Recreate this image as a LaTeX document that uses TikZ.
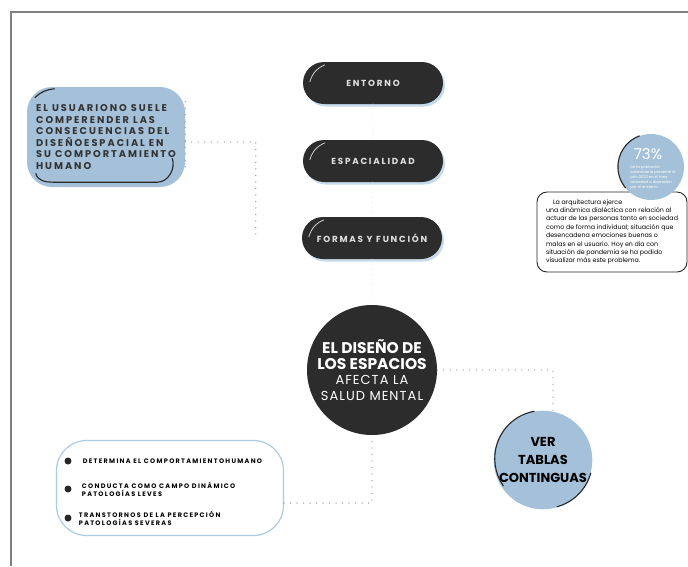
\documentclass[tikz,border=0pt]{standalone}
\usepackage{fontspec}
\setmainfont{Poppins}
\newfontfamily\widefont[LetterSpace=20]{Poppins}
\newfontfamily\softfont[LetterSpace=8]{Poppins}
\usepackage{tikz}
\usetikzlibrary{positioning, shadows}
\definecolor{pilldark}{RGB}{44,44,44}
\definecolor{mistblue}{RGB}{164,193,217}
\definecolor{shadeblue}{RGB}{198,218,236}
\definecolor{rimblue}{RGB}{170,203,227}
\definecolor{framegray}{RGB}{128,128,128}
\definecolor{dotgray}{RGB}{140,140,140}
\tikzset{
node distance=78pt, % distance between the pills
pill/.style={fill=pilldark, rounded corners=21pt, minimum width=140pt, minimum height=42pt, text=black!12, font=\widefont\bfseries\fontsize{8.8}{9}\selectfont, drop shadow={fill=shadeblue, opacity=1, shadow xshift=2pt, shadow yshift=-2.5pt}}, % dark buttons
hilite/.style={draw=white!80!black, line width=0.8pt}, % light stroke on the buttons
inkarc/.style={draw=black!85, line width=1.1pt}, % black strokes round the blue shapes
dotline/.style={draw=dotgray, line width=1.3pt, line cap=round, dash pattern=on 0pt off 6.5pt}, % dotted connectors
faint/.style={draw=black!12, line width=1pt, line cap=round, dash pattern=on 0pt off 5pt}, % the pale spine
}
\tikzset{
  centro/.style={circle, fill=pilldark, minimum size=130pt, text=white, align=center, inner sep=0pt},
  bluebox/.style={fill=mistblue, rounded corners=25pt, minimum width=158pt, minimum height=100pt, align=left, text=black!80, font=\widefont\bfseries\fontsize{9.8}{11.6}\selectfont},
  notebox/.style={draw=black!85, line width=0.9pt, fill=white, rounded corners=10pt, minimum width=150pt, minimum height=80pt, align=left, text=black, font=\fontsize{6.3}{8.4}\selectfont},
  disc/.style={circle, fill=mistblue, inner sep=0pt},
  listbox/.style={draw=rimblue, line width=1.2pt, rounded corners=30pt, minimum width=227pt, minimum height=95pt},
  dotitem/.style={circle, fill=black!85, minimum size=7pt, inner sep=0pt},
  itemtext/.style={align=left, inner sep=0pt, font=\widefont\bfseries\fontsize{6.5}{8}\selectfont}
}

\begin{document}
\begin{tikzpicture}[x=1pt, y=-1pt]
      \useasboundingbox (0,0) rectangle (688,566);
      \draw[framegray, line width=2pt] (688,12) -- (11,12) -- (11,566);

      \node[pill] (entorno) at (373,83) {ENTORNO};
      \node[pill, below of=entorno] (espacialidad) {ESPACIALIDAD};
      \node[pill, below of=espacialidad, xshift=-1pt, node distance=77pt] (formas) {FORMAS Y FUNCIÓN};
      \node[centro, below of=formas, node distance=132pt, font=\bfseries\fontsize{15.5}{15.5}\selectfont] (centro)
        {EL DISEÑO DE\\LOS ESPACIOS\\{\mdseries\softfont\fontsize{13}{15}\selectfont AFECTA LA}\\{\mdseries\softfont\fontsize{13}{15}\selectfont SALUD MENTAL}};
      \foreach \p in {entorno, espacialidad, formas}
        \draw[hilite] ([xshift=7pt,yshift=1pt]\p.west) to[bend left=25] ([xshift=22pt,yshift=-3pt]\p.north west);

      \node[bluebox] (usuario) at (106,137) {EL USUARIONO SUELE\\COMPERENDER LAS\\CONSECUENCIAS DEL\\DISEÑOESPACIAL EN\\SU COMPORTAMIENTO\\HUMANO};
      \draw[inkarc] ([xshift=8pt,yshift=-11pt]usuario.north west) to[bend left=20] ([xshift=28pt,yshift=-2pt]usuario.north west);
      \draw[inkarc] ([xshift=-13pt,yshift=29pt]usuario.south east) to[out=-70,in=0] ([xshift=-28pt,yshift=5pt]usuario.south east)
        -- ([xshift=26pt,yshift=5pt]usuario.south west) to[out=180,in=-80] ([xshift=9pt,yshift=14pt]usuario.south west);

      \node[notebox] (nota) at (612,232) {\hspace*{7pt}La arquitectura ejerce\\una dinámica dialéctica con relación al\\actuar de las personas tanto en sociedad\\como de forma individual; situación que\\desencadena emociones buenas o\\malas en el usuario. Hoy en día con\\situación de pandemia se ha podido\\visualizar más este problema.};
      \node[disc, minimum size=66pt] (pct) at (651,167) {};
      \draw[inkarc] (pct.110) arc[start angle=110, end angle=220, radius=33pt];
      \node[text=white, font=\fontsize{15}{15}\selectfont] (pctnum) at (648,154) {73\%};
      \node[text=white, align=left, inner sep=0pt, font=\fontsize{3.8}{5}\selectfont] (pctnote) at (653,177) {De la población\\colombiana presentó el\\año 2020 en el mes\\ansiedad o depresión\\por el encierro};

      \node[disc, minimum size=94pt, align=center, font=\bfseries\fontsize{13}{18}\selectfont] (ver) at (543,460) {VER\\TABLAS\\CONTINGUAS};
      \draw[inkarc] (ver.100) arc[start angle=100, end angle=215, radius=48pt];
      \draw[inkarc] (ver.-15) arc[start angle=-15, end angle=-75, radius=48pt];

      \node[listbox] (lista) at (170,488) {};
      \node[dotitem] (b1) at (68,461) {};
      \node[dotitem] (b2) at (68,489) {};
      \node[dotitem] (b3) at (68,518) {};
      \node[itemtext, right=11pt of b1] (t1) {DETERMINA EL COMPORTAMIENTOHUMANO};
      \node[itemtext, right=10pt of b2] (t2) {CONDUCTA COMO CAMPO DINÁMICO\\PATOLOGÍAS LEVES};
      \node[itemtext, right=7pt of b3] (t3) {TRANSTORNOS DE LA PERCEPCIÓN\\PATOLOGÍAS SEVERAS};

      \draw[faint] (entorno) edge (espacialidad)
      (espacialidad) edge (formas)
      (formas) edge (centro);
      \draw[dotline] ([yshift=-15pt]usuario.north east) -- ([yshift=15pt]usuario.south east);
      \coordinate[left=46pt of formas.west] (fin);
      \draw[dotline] ([yshift=-5pt]usuario.east) -| (fin);
      \draw[dotline] (centro.east) -| ([xshift=10pt]ver.north);
      \draw[dotline] ([yshift=-15pt]lista.east) -| (centro.south);
    \end{tikzpicture}
\end{document}
